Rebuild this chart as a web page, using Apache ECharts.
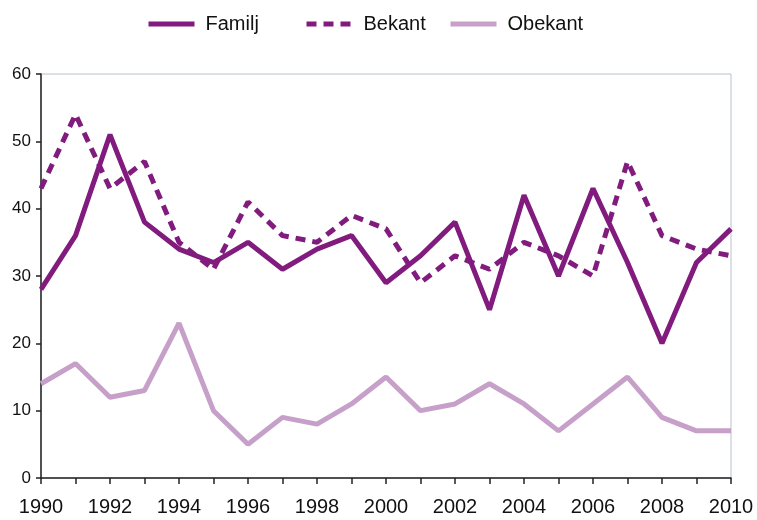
<html>
<head>
    <meta charset="utf-8">
    <title>Familj / Bekant / Obekant</title>
    <script src="https://cdn.jsdelivr.net/npm/echarts@6/dist/echarts.min.js"></script>
</head>
<body style="margin:0">
<div id="chartmain" style="width: 757px; height: 520px;"></div>
<script type="text/javascript">
    // år och värden
    var years = ['1990','1991','1992','1993','1994','1995','1996','1997','1998','1999','2000',
                 '2001','2002','2003','2004','2005','2006','2007','2008','2009','2010'];
    var familj  = [28, 36, 51, 38, 34, 32, 35, 31, 34, 36, 29, 33, 38, 25, 42, 30, 43, 32, 20, 32, 37];
    var bekant  = [43, 54, 43, 47, 35, 31, 41, 36, 35, 39, 37, 29, 33, 31, 35, 33, 30, 47, 36, 34, 33];
    var obekant = [14, 17, 12, 13, 23, 10,  5,  9,  8, 11, 15, 10, 11, 14, 11,  7, 11, 15,  9,  7,  7];
    var names = ['Familj', 'Bekant', 'Obekant'];

    var mork = '#811c7e';
    var ljus = '#c6a0c9';
    var font = 'Liberation Sans';

    // en legend per serie, eftersom avstånden inte är lika
    var legendLeft = [146, 304, 448];
    function legend(i) {
        return {
            left: legendLeft[i],
            top: 14,
            padding: 0,
            itemWidth: 46,
            itemHeight: 6,
            itemStyle: { opacity: 0 },
            lineStyle: { width: 5 },
            textStyle: { fontSize: 20, color: '#111', fontFamily: font, padding: [0, 0, 0, 6] },
            data: [names[i]]
        };
    }

    var myChart = echarts.init(document.getElementById('chartmain'));

    var option = {
        animation: false,
        textStyle: { fontFamily: font, color: '#111' },
        legend: [legend(0), legend(1), legend(2)],
        grid: {
            left: 41, right: 26, top: 74, bottom: 42,
            show: true,
            borderColor: '#b7c2cc',
            borderWidth: 1
        },
        xAxis: {
            type: 'category',
            data: years,
            boundaryGap: false,
            axisLine: { lineStyle: { color: '#222', width: 1.5 } },
            axisTick: { interval: 0, length: 6, lineStyle: { color: '#222', width: 1.5 } },
            axisLabel: { interval: 1, fontSize: 20, color: '#111', margin: 19, fontFamily: font }
        },
        yAxis: {
            type: 'value',
            min: 0,
            max: 60,
            interval: 10,
            splitLine: { show: false },
            axisLine: { show: true, lineStyle: { color: '#222', width: 1.5 } },
            axisTick: { show: true, length: 5, lineStyle: { color: '#222', width: 1.5 } },
            axisLabel: { fontSize: 17, color: '#111', margin: 10, fontFamily: font }
        },
        series: [
            {
                name: names[0], type: 'line', data: familj, symbol: 'none',
                lineStyle: { color: mork, width: 5 }, itemStyle: { color: mork }, z: 3
            },
            {
                name: names[1], type: 'line', data: bekant, symbol: 'none',
                lineStyle: { color: mork, width: 5, type: [10, 7] }, itemStyle: { color: mork }, z: 2
            },
            {
                name: names[2], type: 'line', data: obekant, symbol: 'none',
                lineStyle: { color: ljus, width: 5 }, itemStyle: { color: ljus }, z: 1
            }
        ]
    };

    myChart.setOption(option);
</script>
</body>
</html>
